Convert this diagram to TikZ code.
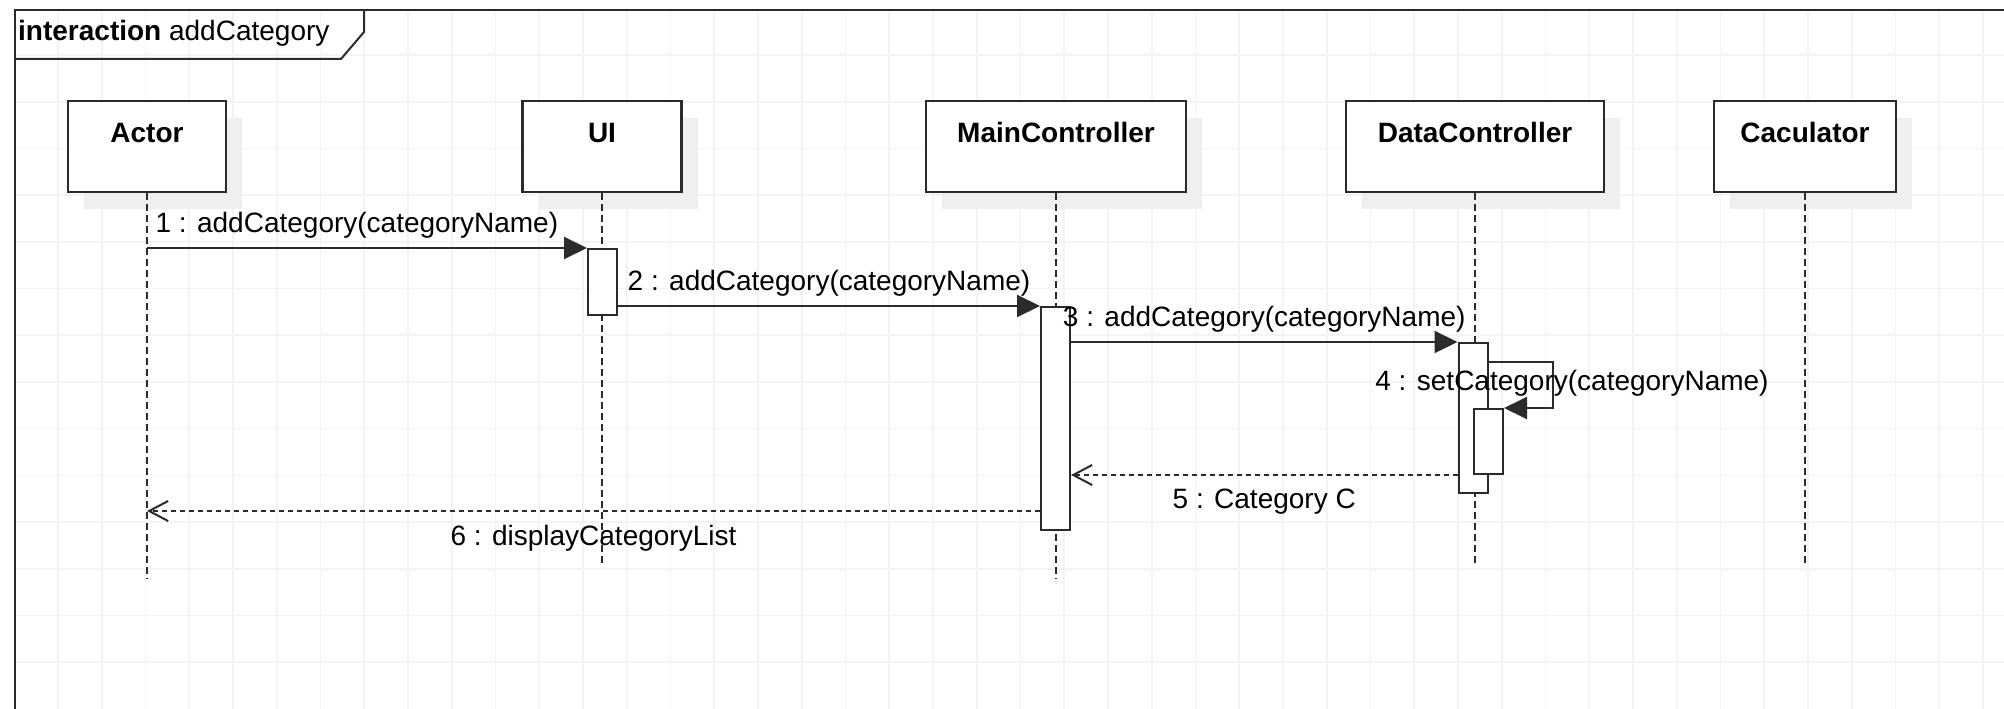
\documentclass[tikz,border=0pt]{standalone}
\usepackage{fontspec}
\setmainfont{Liberation Sans}
\usetikzlibrary{arrows.meta,shadows}
\definecolor{gridgray}{HTML}{F3F3F3}
\definecolor{shadegray}{HTML}{EFEFEF}
\definecolor{linegray}{HTML}{2B2B2B}

\begin{document}
\begin{tikzpicture}[x=1pt,y=-1pt]

    \tikzset{objstyle/.style={draw=linegray,line width=2.4pt,fill=white,inner sep=0pt,
        text height=41pt,text depth=50pt,font=\fontsize{28}{34}\selectfont\bfseries,
        drop shadow={shadow xshift=16pt,shadow yshift=-17pt,fill=shadegray,opacity=1}},
      actstyle/.style={draw=linegray,line width=2pt,fill=white,minimum width=29pt,inner sep=0pt},
      lifestyle/.style={draw=linegray,line width=1.8pt,dash pattern=on 7pt off 4pt},
      msgstyle/.style={font=\fontsize{28}{34}\selectfont,inner sep=9pt},
      callarrow/.style={-{Triangle[length=23pt,width=22pt]}},
      backarrow/.style={dash pattern=on 5pt off 4pt,-{Straight Barb[length=19pt,width=20pt]}}}

    \useasboundingbox[fill=white] (0,0) rectangle (2004,709);
    % grid
    \foreach \i in {0,...,44} \draw[gridgray,line width=1.6pt] (58+43.75*\i,10) -- (58+43.75*\i,709);
    \foreach \j in {0,...,13} \draw[gridgray,line width=1.6pt] (15,55+46.7*\j) -- (2004,55+46.7*\j);

    % frame
    \draw[linegray,line width=2pt] (15,709) -- (15,10) -- (2004,10);
    \draw[linegray,line width=2pt] (15,59) -- (341,59) -- (364,32) -- (364,10);
    \node[anchor=west,inner sep=0pt,font=\fontsize{28}{34}\selectfont] (title) at (18,33) {\textbf{interaction} addCategory};

    \node[objstyle,minimum width=158pt] (actor) at (147,146.5) {Actor};
    \node[objstyle,minimum width=159pt] (ui) at (602,146.5) {UI};
    \node[objstyle,minimum width=260pt] (mc) at (1056,146.5) {MainController};
    \node[objstyle,minimum width=258pt] (dc) at (1475,146.5) {DataController};
    \node[objstyle,minimum width=182pt] (calc) at (1805,146.5) {Caculator};

    \coordinate (actorEnd) at (147,579);
    \coordinate (uiEnd) at (602,565);
    \coordinate (mcEnd) at (1056,579);
    \coordinate (dcEnd) at (1475,566);
    \coordinate (calcEnd) at (1805,566);
    \draw[lifestyle] (actor) -- (actorEnd);
    \draw[lifestyle] (ui) -- (uiEnd);
    \draw[lifestyle] (mc) -- (mcEnd);
    \draw[lifestyle] (dc) -- (dcEnd);
    \draw[lifestyle] (calc) -- (calcEnd);

    \node[actstyle,minimum height=66pt] (uiAct) at (602.5,282) {};
    \node[actstyle,minimum height=223pt] (mcAct) at (1055.5,418.5) {};
    \node[actstyle,minimum height=150pt] (dcAct) at (1473,418) {};
    \node[actstyle,minimum height=65pt] (setAct) at (1488.5,441.5) {};

    \coordinate (selfTurn) at (1553,362);
    \coordinate (backEnd) at (147,511);

    \begin{scope}[every path/.style={draw=linegray,line width=2pt}]
        \draw[callarrow] (actor |- uiAct.north) -- (uiAct.north west)node[msgstyle,pos=0.477,above]{1 : addCategory(categoryName)};
        \draw[callarrow] (uiAct.east |- mcAct.north) -- (mcAct.north west)node[msgstyle,midway,above]{2 : addCategory(categoryName)};
        \draw[callarrow] (mcAct.east |- dcAct.north) -- (dcAct.north west)node[msgstyle,midway,above]{3 : addCategory(categoryName)};
        \draw[callarrow] (dcAct.east |- selfTurn) -- (selfTurn) -- (selfTurn |- setAct.north) -- (setAct.north east);
        \node[msgstyle] (setLbl) at (1572,383) {4 : setCategory(categoryName)};
        \draw[backarrow] (dcAct.west |- setAct.south) -- (mcAct.east |- setAct.south)node[msgstyle,midway,below=4pt]{5 : Category C};
        \draw[backarrow] (mcAct.west |- backEnd) -- (backEnd)node[msgstyle,midway,below=4pt]{6 : displayCategoryList};
    \end{scope}
\end{tikzpicture}
\end{document}
